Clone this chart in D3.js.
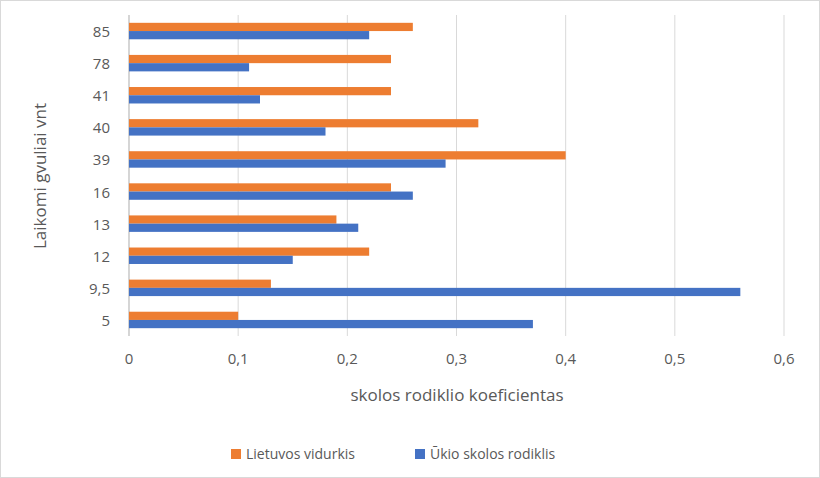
<!DOCTYPE html>
<html><head><meta charset="utf-8">
<script src="https://cdn.jsdelivr.net/npm/d3@7"></script>
<style>body{margin:0;background:#fff}svg{font-family:"Open Sans","Noto Sans",sans-serif}</style>
</head><body><svg id="c" width="820" height="478"></svg>
<script>
const categories = ["5","9,5","12","13","16","39","40","41","78","85"];
const lietuvos = [0.10,0.13,0.22,0.19,0.24,0.40,0.32,0.24,0.24,0.26];
const ukio = [0.37,0.56,0.15,0.21,0.26,0.29,0.18,0.12,0.11,0.22];
const xTicks = [0,0.1,0.2,0.3,0.4,0.5,0.6];
const xTickLabels = ["0","0,1","0,2","0,3","0,4","0,5","0,6"];
const seriesNames = ["Lietuvos vidurkis","Ūkio skolos rodiklis"];
const colors = ["#ED7D31","#4472C4"];

const svg = d3.select("#c");
svg.append("rect").attr("x",0.5).attr("y",0.5).attr("width",819).attr("height",477).attr("fill","#fff").attr("stroke","#d9d9d9");
const L=129,R=784,T=15,B=336;
const x = d3.scaleLinear().domain([0,0.6]).range([L,R]);
const y = d3.scaleBand().domain(categories.slice().reverse()).range([T,B]);
const inner = d3.scaleBand().domain([0,1]).range([0,y.bandwidth()]).paddingInner(0).paddingOuter(0.95);

svg.append("g").selectAll("line").data(xTicks).join("line")
  .attr("x1",d=>x(d)).attr("x2",d=>x(d)).attr("y1",T).attr("y2",B).attr("stroke","#d9d9d9");
svg.append("line").attr("x1",L).attr("x2",L).attr("y1",T).attr("y2",B).attr("stroke","#bfbfbf");

[lietuvos,ukio].forEach((vals,si)=>{
  svg.append("g").selectAll("rect").data(categories).join("rect")
    .attr("x",L).attr("y",(c)=>y(c)+inner(si))
    .attr("width",(c,i)=>x(vals[i])-L).attr("height",inner.bandwidth())
    .attr("fill",colors[si]);
});

svg.append("g").selectAll("text").data(xTicks).join("text")
  .attr("x",d=>x(d)).attr("y",364).attr("text-anchor","middle")
  .attr("font-size",15).attr("fill","#595959").text((d,i)=>xTickLabels[i]);
svg.append("g").selectAll("text").data(categories).join("text")
  .attr("x",110).attr("y",c=>y(c)+y.bandwidth()/2+6).attr("text-anchor","end")
  .attr("font-size",15).attr("fill","#595959").text(c=>c);
svg.append("text").attr("x",457).attr("y",401).attr("text-anchor","middle")
  .attr("font-size",17).attr("fill","#595959").text("skolos rodiklio koeficientas");
svg.append("text").attr("transform","translate(46,176) rotate(-90)").attr("text-anchor","middle")
  .attr("font-size",17).attr("fill","#595959").text("Laikomi gvuliai vnt");

const lg=[[231,seriesNames[0]],[415,seriesNames[1]]];
lg.forEach(([lx,t],i)=>{
  svg.append("rect").attr("x",lx).attr("y",449).attr("width",10).attr("height",10).attr("fill",colors[i]);
  svg.append("text").attr("x",lx+15).attr("y",459).attr("font-size",14).attr("fill","#595959").text(t);
});
</script></body></html>
